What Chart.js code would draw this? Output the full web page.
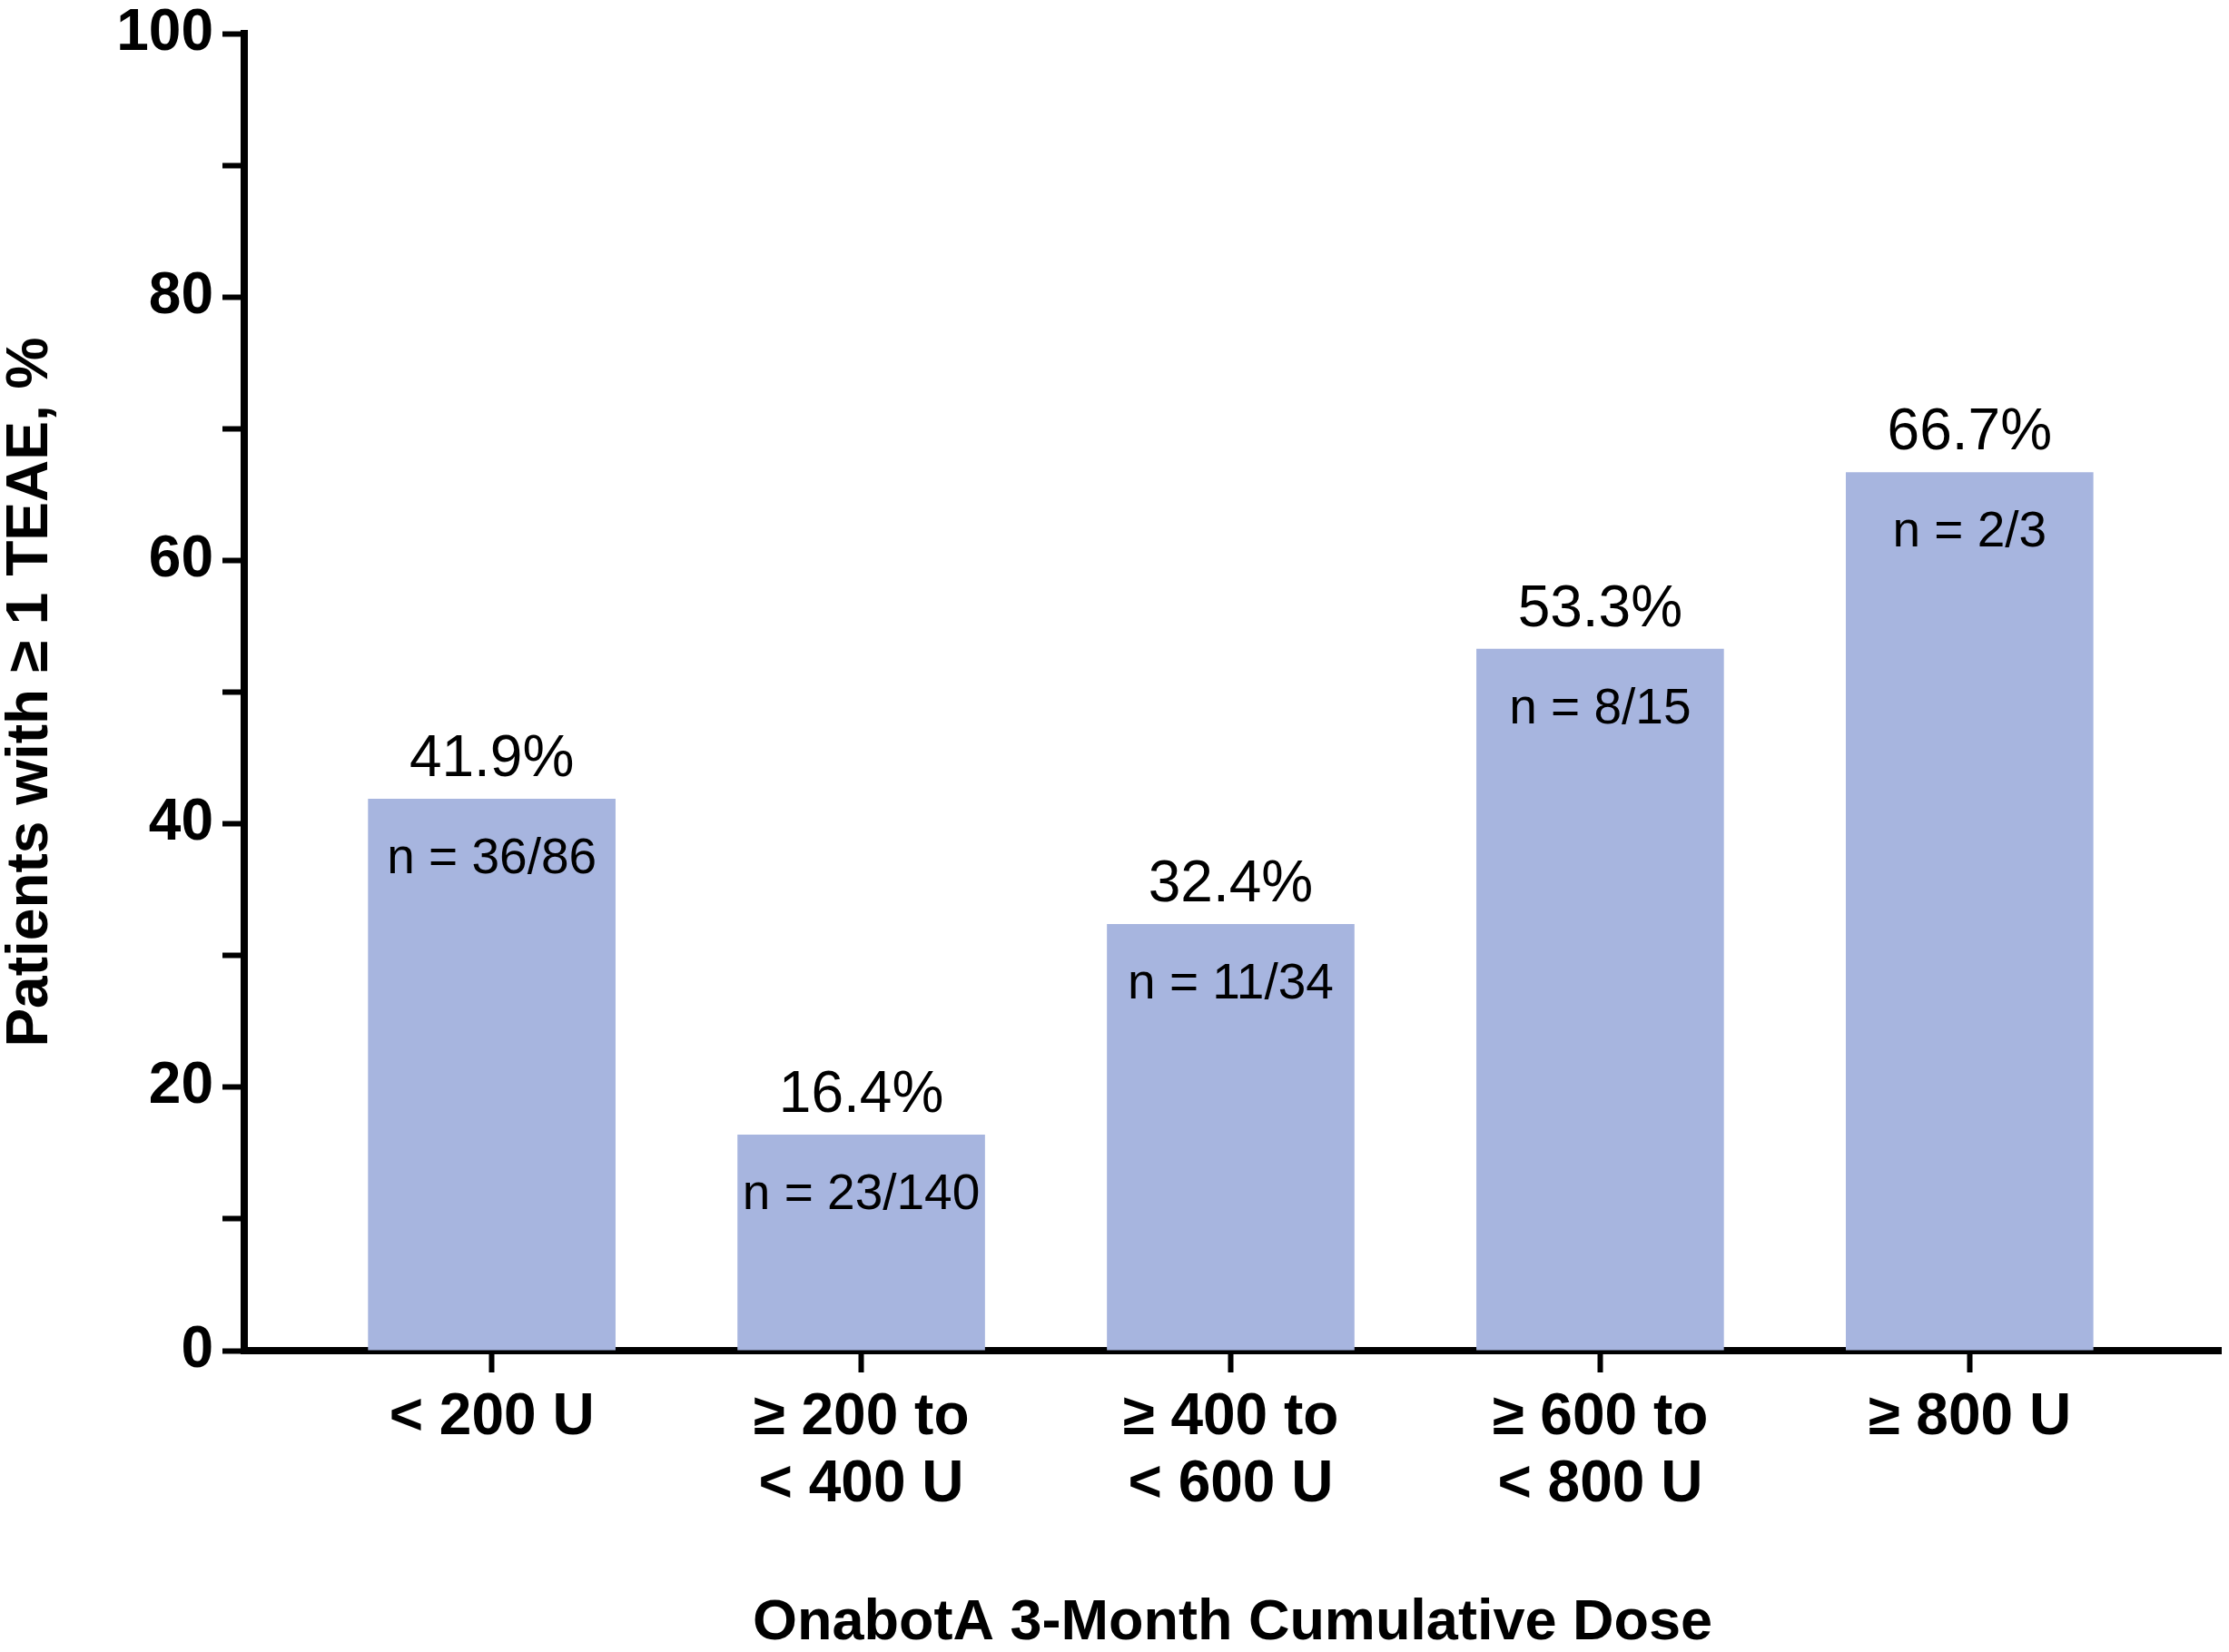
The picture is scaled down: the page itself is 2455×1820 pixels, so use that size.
<!DOCTYPE html>
<html>
<head>
<meta charset="utf-8">
<script src="https://cdn.jsdelivr.net/npm/chart.js@4.4.1/dist/chart.umd.min.js"></script>
<style>
  html, body { margin: 0; padding: 0; background: #fff; }
  #wrap { width: 2455px; height: 1820px; }
</style>
</head>
<body>
<div id="wrap"><canvas id="dose-chart" width="2455" height="1820"></canvas></div>
<script>
// data
var doseGroups = [['< 200 U'], ['≥ 200 to', '< 400 U'], ['≥ 400 to', '< 600 U'], ['≥ 600 to', '< 800 U'], ['≥ 800 U']];
var teaePercent = [41.9, 16.4, 32.4, 53.3, 66.7];
var teaeCounts = ['36/86', '23/140', '11/34', '8/15', '2/3'];
var yTickStep = 10;

var FONT = '"Liberation Sans", Arial, Helvetica, sans-serif';
var barColor = '#a7b5df';

// percent above each bar, n inside the top of each bar
var barLabels = {
  id: 'barLabels',
  afterDatasetsDraw: function(chart) {
    var ctx = chart.ctx;
    chart.getDatasetMeta(0).data.forEach(function(bar, i) {
      ctx.save();
      ctx.fillStyle = '#000';
      ctx.textAlign = 'center';
      ctx.textBaseline = 'alphabetic';
      ctx.font = '64px ' + FONT;
      ctx.fillText(teaePercent[i].toFixed(1) + '%', bar.x, bar.y - 25);
      ctx.font = '55px ' + FONT;
      ctx.fillText('n = ' + teaeCounts[i], bar.x, bar.y + 82);
      ctx.restore();
    });
  }
};

new Chart(document.getElementById('dose-chart'), {
  type: 'bar',
  data: {
    datasets: [{
      label: 'Patients with ≥ 1 TEAE, %',
      backgroundColor: barColor,
      borderWidth: 0,
      data: teaePercent.map(function(v, i) { return { x: i, y: v }; }),
      categoryPercentage: 1,
      barPercentage: 0.67
    }]
  },
  options: {
    responsive: false,
    devicePixelRatio: 1,
    animation: false,
    layout: { padding: { top: 28, right: 9, bottom: 0, left: 0 } },
    plugins: {
      legend: { display: false },
      tooltip: { enabled: false }
    },
    scales: {
      x: {
        type: 'linear',
        min: -0.67,
        max: 4.68,
        offset: false,
        grid: { offset: false, drawOnChartArea: false, color: '#000', tickLength: 24, tickWidth: 6 },
        border: { color: '#000', width: 8 },
        ticks: {
          stepSize: 1,
          includeBounds: false,
          autoSkip: false,
          maxRotation: 0,
          padding: 13,
          color: '#000',
          font: { family: FONT, size: 64, weight: 'bold', lineHeight: 1.16 },
          callback: function(v) {
            return Number.isInteger(v) && doseGroups[v] ? doseGroups[v] : null;
          }
        },
        title: {
          display: true,
          text: 'OnabotA 3-Month Cumulative Dose',
          color: '#000',
          font: { family: FONT, size: 63, weight: 'bold', lineHeight: 1 },
          padding: { top: 60, bottom: 0 }
        },
        afterFit: function(scale) { scale.height = 332; }
      },
      y: {
        min: 0,
        max: 100,
        grid: { drawOnChartArea: false, color: '#000', tickLength: 24, tickWidth: 6 },
        border: { color: '#000', width: 8 },
        ticks: {
          stepSize: yTickStep,
          padding: 10,
          color: '#000',
          font: { family: FONT, size: 64, weight: 'bold', lineHeight: 0.85 },
          callback: function(v) { return v % 20 === 0 ? v : ''; }
        },
        title: {
          display: true,
          text: 'Patients with ≥ 1 TEAE, %',
          color: '#000',
          font: { family: FONT, size: 64, weight: 'bold', lineHeight: 1 },
          padding: { top: 2, bottom: 0 }
        },
        afterFit: function(scale) { scale.width = 269; }
      }
    }
  },
  plugins: [barLabels]
});
</script>
</body>
</html>
